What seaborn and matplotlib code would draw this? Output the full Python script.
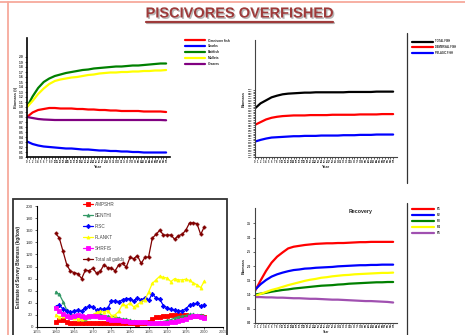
import pandas as pd
import matplotlib
matplotlib.use("Agg")
import matplotlib.pyplot as plt
import matplotlib.patheffects as pe
from matplotlib.lines import Line2D
from matplotlib.patches import Rectangle
import seaborn as sns

W, H = 465, 335

# ---------------- model run: guild biomass, piscivores overfished ----------------
model_time = list(range(0, 51, 2))

guild_labels = ["Omnivore fish", "Sharks", "Baitfish", "Mullets", "Grazers"]
guild_colors = ["#FF0000", "#0000FF", "#008000", "#FFFF00", "#800080"]
omnivore_fish = [0.80, 0.89, 0.94, 0.96, 0.98, 0.98, 0.97, 0.97, 0.97, 0.96, 0.96, 0.95, 0.95,
                 0.94, 0.94, 0.93, 0.93, 0.92, 0.92, 0.92, 0.92, 0.91, 0.91, 0.91, 0.91, 0.90]
sharks = [0.31, 0.26, 0.23, 0.21, 0.20, 0.19, 0.18, 0.17, 0.17, 0.16, 0.15, 0.15, 0.14,
          0.13, 0.13, 0.12, 0.12, 0.11, 0.11, 0.10, 0.10, 0.09, 0.09, 0.09, 0.09, 0.09]
baitfish = [1.00, 1.21, 1.38, 1.50, 1.57, 1.62, 1.65, 1.68, 1.70, 1.72, 1.74, 1.75, 1.77,
            1.78, 1.79, 1.80, 1.81, 1.81, 1.82, 1.83, 1.83, 1.84, 1.85, 1.86, 1.87, 1.87]
mullets = [1.00, 1.12, 1.26, 1.37, 1.46, 1.52, 1.55, 1.57, 1.59, 1.60, 1.62, 1.64, 1.65,
           1.67, 1.68, 1.69, 1.69, 1.70, 1.70, 1.71, 1.71, 1.72, 1.72, 1.73, 1.73, 1.74]
grazers = [0.80, 0.78, 0.76, 0.75, 0.745, 0.74, 0.74, 0.74, 0.74, 0.74, 0.74, 0.74, 0.74,
           0.74, 0.74, 0.74, 0.74, 0.74, 0.74, 0.74, 0.74, 0.74, 0.74, 0.74, 0.74, 0.735]

# ---------------- aggregated groups ----------------
group_labels = ["TOTAL FISH", "DEMERSAL FISH", "PELAGIC FISH"]
group_colors = ["#000000", "#FF0000", "#0000FF"]
total_fish = [1.45, 1.60, 1.69, 1.78, 1.83, 1.87, 1.89, 1.90, 1.91, 1.92, 1.92, 1.93, 1.93,
              1.93, 1.93, 1.93, 1.93, 1.94, 1.94, 1.94, 1.94, 1.94, 1.95, 1.95, 1.95, 1.95]
demersal_fish = [0.96, 1.04, 1.12, 1.17, 1.20, 1.22, 1.23, 1.24, 1.24, 1.24, 1.25, 1.25, 1.25,
                 1.25, 1.26, 1.26, 1.26, 1.26, 1.26, 1.27, 1.27, 1.27, 1.27, 1.28, 1.28, 1.28]
pelagic_fish = [0.46, 0.51, 0.55, 0.58, 0.59, 0.60, 0.61, 0.62, 0.62, 0.63, 0.63, 0.63, 0.64,
                0.64, 0.64, 0.64, 0.65, 0.65, 0.65, 0.66, 0.66, 0.66, 0.67, 0.67, 0.67, 0.67]

# ---------------- recovery run ----------------
recovery_labels = ["F1", "F2", "F3", "F4", "F5"]
recovery_colors = ["#FF0000", "#0000FF", "#008000", "#FFFF00", "#A050B0"]
rec_f1 = [1.12, 1.49, 1.83, 2.12, 2.33, 2.48, 2.62, 2.68, 2.71, 2.74, 2.76, 2.78, 2.79,
          2.80, 2.80, 2.81, 2.81, 2.82, 2.83, 2.84, 2.84, 2.85, 2.85, 2.85, 2.85, 2.85]
rec_f2 = [1.17, 1.36, 1.51, 1.63, 1.71, 1.77, 1.82, 1.86, 1.88, 1.91, 1.92, 1.94, 1.95,
          1.96, 1.97, 1.99, 2.00, 2.01, 2.02, 2.03, 2.03, 2.04, 2.04, 2.05, 2.05, 2.05]
rec_f3 = [1.00, 1.03, 1.06, 1.10, 1.13, 1.16, 1.18, 1.21, 1.23, 1.25, 1.27, 1.29, 1.31,
          1.32, 1.33, 1.35, 1.36, 1.38, 1.39, 1.40, 1.41, 1.42, 1.43, 1.43, 1.44, 1.44]
rec_f4 = [0.95, 1.02, 1.09, 1.16, 1.21, 1.27, 1.33, 1.38, 1.43, 1.48, 1.52, 1.55, 1.59,
          1.61, 1.64, 1.66, 1.68, 1.69, 1.71, 1.72, 1.73, 1.74, 1.75, 1.76, 1.76, 1.77]
rec_f5 = [0.91, 0.91, 0.90, 0.90, 0.89, 0.89, 0.88, 0.87, 0.87, 0.86, 0.85, 0.85, 0.84,
          0.83, 0.82, 0.82, 0.81, 0.80, 0.79, 0.78, 0.77, 0.77, 0.76, 0.75, 0.74, 0.72]

# ---------------- survey biomass (kg/tow) ----------------
survey_years = list(range(1960, 2001))
survey_labels = ["AMPSHR", "BENTHI", "PISC", "PLANKT", "SHRFIS", "Total all guilds"]
survey_colors = ["#FF0000", "#339966", "#0000FF", "#FFFF00", "#FF00FF", "#800000"]
survey_markers = ["s", "^", "D", "^", "s", "P"]
ampshr = [9, 11, 11, 9, 7, 6, 6, 6, 6, 7, 7, 7, 6, 6, 6, 7, 6, 6, 7, 7, 6,
          6, 5, 6, 7, 8, 13, 16, 17, 18, 19, 20, 20, 20, 20, 20, 19, 19, 18, 18, 17]
benthi = [58, 54, 42, 28, 22, 19, 15, 13, 14, 16, 20, 22, 21, 19, 18, 17, 17, 15, 13, 13, 11,
          10, 9, 8, 8, 8, 7, 7, 8, 9, 11, 12, 15, 17, 18, 19, 21, 21, 20, 20, 19]
pisc = [33, 36, 30, 26, 24, 27, 28, 26, 32, 34, 33, 28, 29, 30, 31, 43, 43, 42, 45, 47, 47,
        43, 48, 45, 48, 44, 55, 48, 46, 35, 32, 29, 28, 26, 27, 30, 36, 38, 39, 34, 37]
plankt = [20, 17, 18, 19, 17, 15, 14, 13, 15, 19, 20, 24, 26, 25, 27, 19, 20, 26, 38, 35, 40,
          33, 37, 42, 45, 58, 72, 78, 84, 82, 81, 75, 80, 78, 78, 79, 77, 73, 70, 65, 76]
shrfis = [31, 27, 22, 18, 17, 19, 20, 18, 17, 18, 19, 18, 17, 16, 13, 12, 12, 11, 10, 10, 9,
          8, 9, 8, 8, 7, 6, 7, 7, 6, 7, 8, 9, 10, 11, 13, 17, 18, 19, 17, 15]
total_all = [155, 147, 125, 103, 92, 90, 88, 80, 94, 93, 97, 89, 92, 103, 98, 97, 93, 103, 105, 99,
             115, 113, 118, 105, 115, 116, 147, 153, 160, 152, 152, 152, 145, 151, 153, 160, 172,
             172, 171, 153, 166]

sns.set_theme(style="white")
plt.rcParams["font.family"] = ["Liberation Sans", "DejaVu Sans"]


def fx(x):
    return x / W


def fy(y):
    return 1 - y / H


def rect(x0, y0, x1, y1):
    return [x0 / W, 1 - y1 / H, (x1 - x0) / W, (y1 - y0) / H]


def long_frame(x, names, series):
    rows = []
    for name, vals in zip(names, series):
        for xi, v in zip(x, vals):
            rows.append({"x": xi, "value": v, "series": name})
    return pd.DataFrame(rows)


def style_axes(ax, spine_color="black", spine_w=1.0):
    for side in ("top", "right"):
        ax.spines[side].set_visible(False)
    for side in ("left", "bottom"):
        ax.spines[side].set_color(spine_color)
        ax.spines[side].set_linewidth(spine_w)
    ax.set_facecolor("none")


fig = plt.figure(figsize=(W / 100, H / 100), dpi=100)
fig.patch.set_facecolor("white")

# slide decorations
fig.add_artist(Line2D([0, 1], [fy(2), fy(2)], color="#F7A99C", lw=1.3, transform=fig.transFigure))
fig.add_artist(Line2D([fx(8), fx(8)], [0, fy(2)], color="#F7A99C", lw=1.3, transform=fig.transFigure))
fig.add_artist(Line2D([fx(407), fx(407)], [fy(33), fy(183)], color="#333333", lw=0.9,
                      transform=fig.transFigure))
fig.add_artist(Line2D([fx(407), fx(407)], [fy(203), fy(336)], color="#333333", lw=0.9,
                      transform=fig.transFigure))

title_color = "#9E3A3A"
shadow = [pe.withSimplePatchShadow(offset=(1, -1), shadow_rgbFace="#888888", alpha=0.6)]
fig.text(fx(240), fy(13.5), "PISCIVORES OVERFISHED", ha="center", va="center", fontsize=10.5,
         weight="bold", color=title_color, path_effects=shadow)
fig.add_artist(Line2D([fx(146), fx(333)], [fy(21.5), fy(21.5)], color=title_color, lw=1.6,
                      transform=fig.transFigure,
                      path_effects=[pe.SimpleLineShadow(offset=(1, -1), shadow_color="#888888", alpha=0.6),
                                    pe.Normal()]))

# ---------------- top-left: guilds ----------------
ax1 = fig.add_axes(rect(27, 38, 170, 157))
df1 = long_frame(model_time, guild_labels,
                 [omnivore_fish, sharks, baitfish, mullets, grazers])
sns.lineplot(data=df1, x="x", y="value", hue="series", hue_order=guild_labels,
             palette=guild_colors, lw=1.6, errorbar=None, legend=False, ax=ax1)
ax1.set_xlim(0, 51.4)
ax1.set_ylim(0, 2.38)
ax1.set_xticks(range(0, 51))
ax1.set_xticklabels([str(i) for i in range(0, 51)], fontsize=1.8, weight="bold")
ax1.set_yticks([i / 10 for i in range(0, 21)])
ax1.set_yticklabels([f"{i / 10:.1f}" for i in range(0, 21)], fontsize=2.4, weight="bold")
ax1.tick_params(length=1.2, width=0.5, pad=1, left=True, bottom=True)
ax1.set_xlabel("Year", fontsize=2.8, weight="bold", labelpad=1)
ax1.set_ylabel("Biomass (t)", fontsize=2.8, weight="bold", labelpad=1)
style_axes(ax1, "black", 1.2)
ax1.legend(ax1.get_lines()[:5], guild_labels, loc="upper left",
           bbox_to_anchor=(fx(185), fy(38.5)), bbox_transform=fig.transFigure,
           frameon=False, prop={"size": 2.3, "weight": "bold"}, handlelength=6.2,
           handletextpad=1.0, labelspacing=0.6, borderpad=0, borderaxespad=0)

# ---------------- top-right: aggregated groups ----------------
ax2 = fig.add_axes(rect(255, 40, 397, 157))
df2 = long_frame(model_time, group_labels, [total_fish, demersal_fish, pelagic_fish])
sns.lineplot(data=df2, x="x", y="value", hue="series", hue_order=group_labels,
             palette=group_colors, lw=1.6, errorbar=None, legend=False, ax=ax2)
ax2.set_xlim(0, 51.4)
ax2.set_ylim(0, 3.49)
ax2.set_xticks(range(0, 51))
ax2.set_xticklabels([str(i) for i in range(0, 51)], fontsize=1.8, weight="bold")
yt2 = [i / 20 for i in range(0, 41)]
ax2.set_yticks(yt2)
ax2.set_yticklabels([f"{v:.2f}" for v in yt2], fontsize=1.6, weight="bold")
ax2.tick_params(length=1.2, width=0.5, pad=1, left=True, bottom=True)
ax2.set_xlabel("Year", fontsize=2.8, weight="bold", labelpad=1)
ax2.set_ylabel("Biomass", fontsize=2.8, weight="bold", labelpad=1)
style_axes(ax2, "#444444", 0.8)
ax2.legend(ax2.get_lines()[:3], group_labels, loc="upper left",
           bbox_to_anchor=(fx(412), fy(39.5)), bbox_transform=fig.transFigure,
           frameon=False, prop={"size": 1.9, "weight": "bold"}, handlelength=7.8,
           handletextpad=1.0, labelspacing=0.65, borderpad=0, borderaxespad=0)

# ---------------- bottom-left: survey biomass ----------------
fig.add_artist(Rectangle((fx(13), fy(345)), 214 / W, 146 / H, transform=fig.transFigure,
                         fill=False, ec="#333333", lw=1.3))
ax3 = fig.add_axes(rect(37, 206, 223, 327))
df3 = long_frame(survey_years, survey_labels,
                 [ampshr, benthi, pisc, plankt, shrfis, total_all])
sns.lineplot(data=df3, x="x", y="value", hue="series", style="series",
             hue_order=survey_labels, style_order=survey_labels, palette=survey_colors,
             markers=dict(zip(survey_labels, survey_markers)), dashes=False,
             markersize=2.2, markeredgewidth=0.6, lw=0.9, errorbar=None, legend=False, ax=ax3)
for ln, c in zip(ax3.get_lines(), survey_colors):
    ln.set_markeredgecolor(c)
ax3.set_xlim(1955, 2005)
ax3.set_ylim(0, 200)
ax3.set_xticks(range(1955, 2006, 5))
ax3.set_xticklabels([str(v) for v in range(1955, 2006, 5)], fontsize=2.8, color="#444444")
ax3.set_yticks(range(0, 201, 20))
ax3.set_yticklabels([str(v) for v in range(0, 201, 20)], fontsize=3.2, color="#333333")
ax3.tick_params(axis="y", length=1.5, width=0.5, pad=1.5, left=True)
ax3.tick_params(axis="x", length=1.5, width=0.5, pad=0.8, bottom=True)
ax3.set_xlabel("")
ax3.set_ylabel("Estimate of Survey Biomass (kg/tow)", fontsize=3.3, weight="bold",
               color="#222222", labelpad=3)
style_axes(ax3, "black", 0.8)
ax3.legend(ax3.get_lines()[:6], survey_labels, loc="upper left",
           bbox_to_anchor=(fx(82.5), fy(202)), bbox_transform=fig.transFigure,
           frameon=False, prop={"size": 3.3}, labelcolor="#444444", handlelength=2.2,
           handletextpad=0.5, labelspacing=1.3, borderpad=0, borderaxespad=0)

# ---------------- bottom-right: recovery ----------------
ax4 = fig.add_axes(rect(255, 208, 397, 323))
df4 = long_frame(model_time, recovery_labels, [rec_f1, rec_f2, rec_f3, rec_f4, rec_f5])
sns.lineplot(data=df4, x="x", y="value", hue="series", hue_order=recovery_labels,
             palette=recovery_colors, lw=1.6, errorbar=None, legend=False, ax=ax4)
ax4.set_xlim(0, 51.4)
ax4.set_ylim(0, 4.04)
ax4.set_xticks(range(0, 51))
ax4.set_xticklabels([str(i) for i in range(0, 51)], fontsize=1.8, weight="bold")
yt4 = [i / 2 for i in range(0, 8)]
ax4.set_yticks(yt4)
ax4.set_yticklabels([f"{v:.1f}" for v in yt4], fontsize=2.2, weight="bold")
ax4.tick_params(axis="y", length=1.2, width=0.5, pad=1.5, left=True)
ax4.tick_params(axis="x", length=1.0, width=0.5, pad=0.8, bottom=True)
ax4.set_xlabel("Year", fontsize=2.2, weight="bold", labelpad=0.4)
ax4.set_ylabel("Biomass", fontsize=2.8, weight="bold", labelpad=1)
style_axes(ax4, "#444444", 0.8)
fig.text(fx(361), fy(212), "Recovery", ha="center", va="center", fontsize=3.8, weight="bold")
ax4.legend(ax4.get_lines()[:5], recovery_labels, loc="upper left",
           bbox_to_anchor=(fx(412), fy(207.5)), bbox_transform=fig.transFigure,
           frameon=False, prop={"size": 2.3, "weight": "bold"}, handlelength=7.0,
           handletextpad=0.9, labelspacing=0.6, borderpad=0, borderaxespad=0)

fig.savefig("out.png", dpi=100)
